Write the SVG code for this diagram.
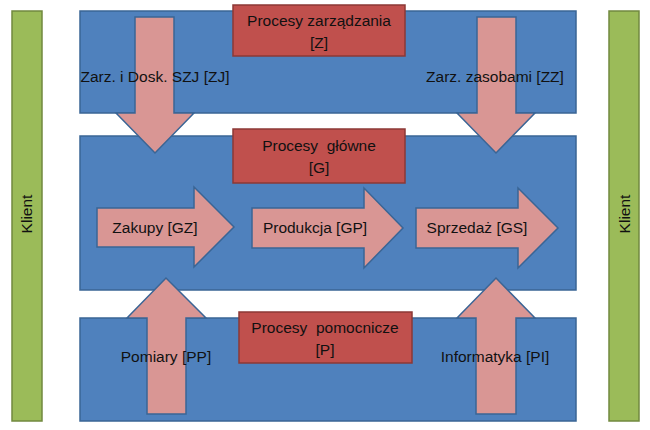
<svg xmlns="http://www.w3.org/2000/svg" width="650" height="430" viewBox="0 0 650 430">
  <style>
    .band { fill: #4F81BD; stroke: #3A6595; stroke-width: 1.5; }
    .client { fill: #9BBB59; stroke: #71893F; stroke-width: 1.5; }
    .proc { fill: #C0504D; stroke: #8C3836; stroke-width: 1.5; }
    .arrow { fill: #D99694; stroke: #3A6595; stroke-width: 1.5; stroke-linejoin: miter; }
    text { font-family: "Liberation Sans", Arial, sans-serif; font-size: 15.5px; fill: #111; text-anchor: middle; white-space: pre; }
  </style>
  <rect x="0" y="0" width="650" height="430" fill="#ffffff"/>

  <g id="band-top"><rect class="band" x="80" y="11" width="496" height="102"/></g>
  <g id="band-middle"><rect class="band" x="80" y="136" width="496" height="154"/></g>
  <g id="band-bottom"><rect class="band" x="80" y="318" width="496" height="103"/></g>

  <g id="klient-left">
    <rect class="client" x="12" y="11" width="30" height="410"/>
    <text transform="translate(32,214) rotate(-90)">Klient</text>
  </g>
  <g id="klient-right">
    <rect class="client" x="609" y="11" width="30" height="410"/>
    <text transform="translate(630,214) rotate(-90)">Klient</text>
  </g>

  <g id="arrows">
    <g id="zj">
      <polygon class="arrow" points="135,17 174,17 174,113 194,113 155,153 116,113 135,113"/>
      <text x="155" y="82">Zarz. i Dosk. SZJ [ZJ]</text>
    </g>
    <g id="zz">
      <polygon class="arrow" points="477,17 516,17 516,113 535,113 496,153 457,113 477,113"/>
      <text x="495" y="82">Zarz. zasobami [ZZ]</text>
    </g>
    <g id="gz">
      <polygon class="arrow" points="97,208 194,208 194,187 234,227 194,267 194,247 97,247"/>
      <text x="155" y="233">Zakupy [GZ]</text>
    </g>
    <g id="gp">
      <polygon class="arrow" points="252,208 364,208 364,188 403,228 364,268 364,248 252,248"/>
      <text x="315" y="233">Produkcja [GP]</text>
    </g>
    <g id="gs">
      <polygon class="arrow" points="416,208 518,208 518,188 558,228 518,268 518,248 416,248"/>
      <text x="477" y="233">Sprzedaż [GS]</text>
    </g>
    <g id="pp">
      <polygon class="arrow" points="147,414 186,414 186,318 206,318 166,278 127,318 147,318"/>
      <text x="166" y="362">Pomiary [PP]</text>
    </g>
    <g id="pi">
      <polygon class="arrow" points="476,414 516,414 516,318 535,318 496,278 457,318 476,318"/>
      <text x="495" y="362">Informatyka [PI]</text>
    </g>
  </g>

  <g id="proc-z">
    <rect class="proc" x="233" y="5" width="172" height="51"/>
    <text x="319" y="26">Procesy zarządzania</text>
    <text x="319" y="48">[Z]</text>
  </g>
  <g id="proc-g">
    <rect class="proc" x="233" y="129" width="172" height="54"/>
    <text x="319" y="151">Procesy  główne</text>
    <text x="319" y="173">[G]</text>
  </g>
  <g id="proc-p">
    <rect class="proc" x="239" y="312" width="173" height="51"/>
    <text x="325" y="333">Procesy  pomocnicze</text>
    <text x="325" y="355">[P]</text>
  </g>
</svg>
